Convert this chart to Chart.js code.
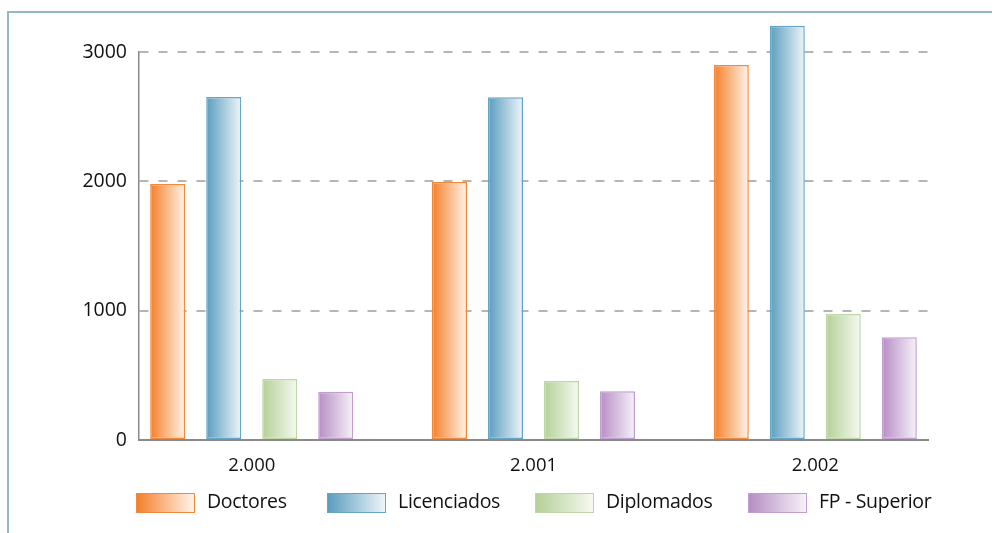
<!DOCTYPE html>
<html>
<head>
<meta charset="utf-8">
<script src="https://cdn.jsdelivr.net/npm/chart.js@4/dist/chart.umd.min.js"></script>
<style>
  html, body { margin: 0; padding: 0; background: #fff; }
  #wrap { position: relative; width: 992px; height: 533px; overflow: hidden; font-family: 'Open Sans', sans-serif; }
  #frame { position: absolute; left: 7px; top: 11px; width: 1000px; height: 600px;
           border-left: 2px solid #93b6cb; border-top: 2px solid #93b6cb; }
  #chart { position: absolute; left: 0; top: 0; }
  #legend { position: absolute; left: 0; top: 0; width: 992px; height: 533px; pointer-events: none; }
  .item { position: absolute; top: 492px; height: 22px; }
  .box { position: absolute; top: 1px; left: 0; width: 57px; height: 18px; border: 1px solid; }
  .lbl { position: absolute; top: -5px; font-size: 19.5px; color: #111; white-space: nowrap; letter-spacing: -0.3px; }
</style>
</head>
<body>
<div id="wrap">
  <div id="frame"></div>
  <canvas id="chart" width="992" height="533"></canvas>
  <div id="legend"></div>
</div>
<script>
  // datos
  const categorias = ['2.000', '2.001', '2.002'];
  const series = ['Doctores', 'Licenciados', 'Diplomados', 'FP - Superior'];
  const doctores = [1980, 1995, 2900];
  const licenciados = [2653, 2650, 3202];
  const diplomados = [472, 456, 975];
  const fpSuperior = [374, 376, 794];
  const ticksY = [0, 1000, 2000, 3000];

  // colores: [inicio degradado, fin degradado, borde]
  const colores = [
    ['#f4802a', '#fff4ea', '#f3893a'],
    ['#5a9dbf', '#eef5f9', '#67a5c6'],
    ['#b4d097', '#f6f9f1', '#bcd6a6'],
    ['#b68dc4', '#f7f2f9', '#c29ed0'],
  ];

  const valores = [doctores, licenciados, diplomados, fpSuperior];

  let datos = {
    datasets: series.map((nombre, i) => ({
      label: nombre,
      data: valores[i].map((v, j) => ({ x: j, y: v })),
      backgroundColor: colores[i][0],
      borderColor: colores[i][2],
      borderWidth: 1.5,
      borderSkipped: false,
      categoryPercentage: 0.795,
      barPercentage: 0.625,
      clip: false,
    }))
  };

  // degradado horizontal de cada barra (copia de opciones por barra)
  const degradado = {
    id: 'degradado',
    beforeDatasetsDraw(chart) {
      const ctx = chart.ctx;
      chart.data.datasets.forEach((ds, i) => {
        chart.getDatasetMeta(i).data.forEach(bar => {
          const g = ctx.createLinearGradient(bar.x - bar.width / 2, 0, bar.x + bar.width / 2, 0);
          g.addColorStop(0, colores[i][0]);
          g.addColorStop(1, colores[i][1]);
          bar.options = Object.assign({}, bar.options, { backgroundColor: g });
        });
      });
    }
  };

  let opciones = {
    responsive: false,
    animation: false,
    layout: { padding: { top: 52, right: 64, left: 0, bottom: 0 } },
    scales: {
      x: {
        type: 'linear',
        min: -0.4,
        max: 2.4,
        offset: false,
        grid: { display: false, drawTicks: false },
        border: { display: true, color: '#8a8a8a', width: 2 },
        ticks: {
          stepSize: 1,
          includeBounds: false,
          autoSkip: false,
          maxRotation: 0,
          padding: 15,
          color: '#111',
          font: { family: 'Open Sans', size: 18.5 },
          callback: v => Number.isInteger(v) ? categorias[v] : ''
        },
        afterFit: s => { s.height = 93; }
      },
      y: {
        min: 0,
        max: 3000,
        afterBuildTicks: s => { s.ticks = ticksY.map(v => ({ value: v })); },
        grid: {
          drawTicks: false,
          color: c => c.tick && c.tick.value === 0 ? 'rgba(0,0,0,0)' : '#b5b5b5',
          lineWidth: 2,
        },
        border: { display: true, color: '#8a8a8a', width: 1.5, dash: [9, 10] },
        ticks: {
          padding: 12,
          color: '#111',
          font: { family: 'Open Sans', size: 19.5 },
          callback: v => String(v)
        },
        afterFit: s => { s.width = 139; }
      }
    },
    plugins: {
      legend: { display: false },
      title: { display: false },
      tooltip: { enabled: false },
    },
  };

  let ctx = document.getElementById('chart').getContext('2d');
  let miGrafica = new Chart(ctx, {
    type: 'bar',
    data: datos,
    options: opciones,
    plugins: [degradado],
  });

  // leyenda en HTML
  const posLeyenda = [136, 327, 535, 748];
  const leyenda = document.getElementById('legend');
  series.forEach((nombre, i) => {
    const item = document.createElement('div');
    item.className = 'item';
    item.style.left = posLeyenda[i] + 'px';
    item.innerHTML = '<div class="box" style="border-color:' + colores[i][2] +
      ';background:linear-gradient(to right,' + colores[i][0] + ',' + colores[i][1] + ')"></div>' +
      '<div class="lbl" style="left:71px">' + nombre + '</div>';
    leyenda.appendChild(item);
  });
</script>
</body>
</html>
